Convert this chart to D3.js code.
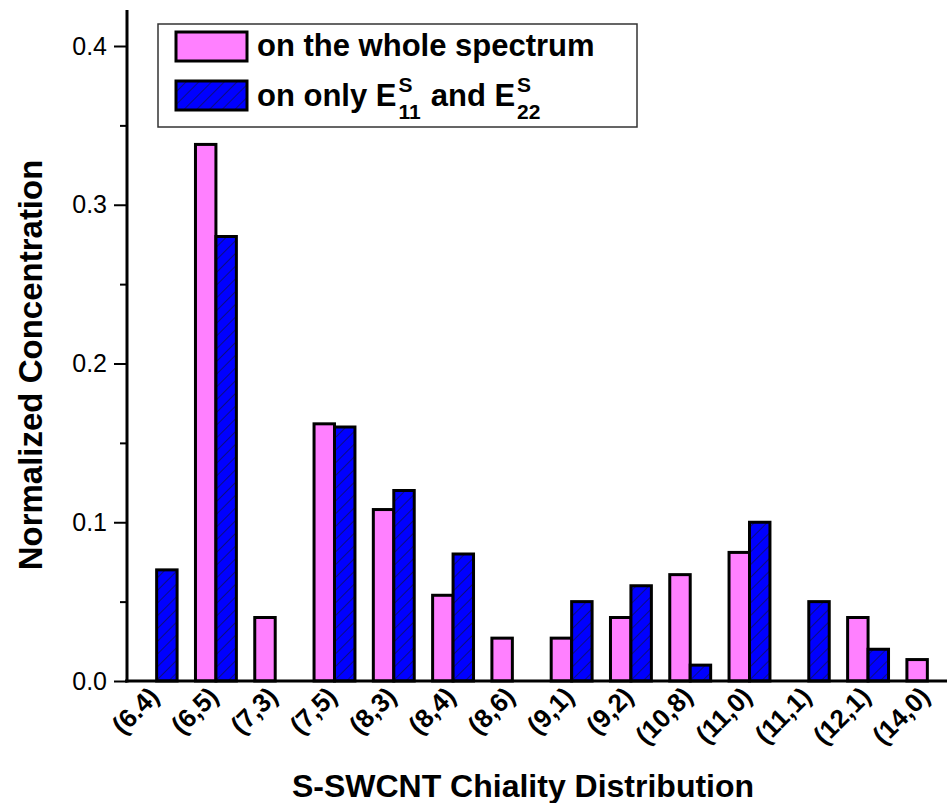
<!DOCTYPE html>
<meta charset="utf-8">
<head>
	<title>S-SWCNT chirality</title>
</head>
<style>
	body { margin: 0; background: #fff; }
	svg text { font-family: "Liberation Sans", Arial, sans-serif; white-space: pre; }
</style>
<body>
<div id="chart"></div>
<script src="https://d3js.org/d3.v7.min.js"></script>
<script>

	var chirality = ["(6.4)", "(6,5)", "(7,3)", "(7,5)", "(8,3)", "(8,4)", "(8,6)", "(9,1)", "(9,2)", "(10,8)", "(11,0)", "(11,1)", "(12,1)", "(14,0)"];
	var wholeSpectrum = [0, 0.338, 0.040, 0.162, 0.108, 0.054, 0.027, 0.027, 0.040, 0.067, 0.081, 0, 0.040, 0.0135];
	var onlyE11E22 = [0.070, 0.280, 0, 0.160, 0.120, 0.080, 0, 0.050, 0.060, 0.010, 0.100, 0.050, 0.020, 0];
	var yTicks = [0, 0.1, 0.2, 0.3, 0.4];
	var yMinor = [0.05, 0.15, 0.25, 0.35];

	var width = 947, height = 803;

	var svg = d3.select("#chart").append("svg")
		.attr("width", width)
		.attr("height", height);

	// hatch for the blue series
	var defs = svg.append("defs");
	var pat = defs.append("pattern")
		.attr("id", "hatch")
		.attr("patternUnits", "userSpaceOnUse")
		.attr("width", 9)
		.attr("height", 9)
		.attr("patternTransform", "rotate(45)");
	pat.append("rect").attr("width", 9).attr("height", 9).attr("fill", "#0000ff");
	pat.append("line")
		.attr("x1", 0).attr("y1", 0).attr("x2", 0).attr("y2", 9)
		.attr("stroke", "#10104a").attr("stroke-width", 1.4);

	var x = d3.scaleBand()
		.domain(chirality)
		.range([127, 957])
		.paddingInner(0.31)
		.paddingOuter(0.155);

	var xSeries = d3.scaleBand()
		.domain(["whole", "only"])
		.range([0, x.bandwidth()]);

	var y = d3.scaleLinear()
		.domain([0, 0.42])
		.range([681, 681 - 0.42 * 1587.5]);

	var rows = chirality.map(function(c, i) {
		return [
			{ cat: c, key: "whole", v: wholeSpectrum[i] },
			{ cat: c, key: "only", v: onlyE11E22[i] }
		];
	});

	var groups = svg.selectAll(".grp")
		.data(rows)
		.enter().append("g")
		.attr("class", "grp")
		.attr("transform", function(d) { return "translate(" + x(d[0].cat) + ",0)"; });

	groups.selectAll("rect")
		.data(function(d) { return d.filter(function(e) { return e.v > 0; }); })
		.enter().append("rect")
		.attr("x", function(d) { return xSeries(d.key); })
		.attr("width", xSeries.bandwidth())
		.attr("y", function(d) { return y(d.v); })
		.attr("height", function(d) { return y(0) - y(d.v); })
		.attr("fill", function(d) { return d.key == "whole" ? "#ff80ff" : "url(#hatch)"; })
		.attr("stroke", "#000")
		.attr("stroke-width", 3);

	// y axis
	var yAxis = svg.append("g")
		.attr("transform", "translate(127,0)")
		.call(d3.axisLeft(y).tickValues(yTicks).tickSize(13).tickPadding(7).tickFormat(d3.format(".1f")));
	yAxis.select(".domain").remove();
	yAxis.selectAll("line").attr("stroke-width", 2);
	yAxis.selectAll("text").style("font-size", "25px").attr("fill", "#000");

	var yAxisMinor = svg.append("g")
		.attr("transform", "translate(127,0)")
		.call(d3.axisLeft(y).tickValues(yMinor).tickSize(7).tickFormat(""));
	yAxisMinor.select(".domain").remove();
	yAxisMinor.selectAll("line").attr("stroke-width", 2);

	svg.append("line")
		.attr("x1", 127).attr("x2", 127)
		.attr("y1", y(0) + 1.5).attr("y2", 10)
		.attr("stroke", "#000").attr("stroke-width", 3);

	// x axis
	svg.append("line")
		.attr("x1", 125).attr("x2", width)
		.attr("y1", y(0)).attr("y2", y(0))
		.attr("stroke", "#000").attr("stroke-width", 3);

	svg.selectAll(".xlab")
		.data(chirality)
		.enter().append("text")
		.attr("class", "xlab")
		.attr("transform", function(d) {
			return "translate(" + (x(d) + x.bandwidth() / 2 + 4) + "," + 698 + ") rotate(-45)";
		})
		.attr("text-anchor", "end")
		.style("font-size", "26px")
		.style("font-weight", "bold")
		.text(function(d) { return d; });

	// axis titles
	svg.append("text")
		.attr("transform", "translate(42,365) rotate(-90)")
		.attr("text-anchor", "middle")
		.style("font-size", "33px")
		.style("font-weight", "bold")
		.text("Normalized Concentration");

	svg.append("text")
		.attr("x", 523)
		.attr("y", 797)
		.attr("text-anchor", "middle")
		.style("font-size", "32px")
		.style("font-weight", "bold")
		.text("S-SWCNT Chiality Distribution");

	// legend
	var leg = svg.append("g");
	leg.append("rect")
		.attr("x", 158).attr("y", 24).attr("width", 479).attr("height", 103)
		.attr("fill", "#fff").attr("stroke", "#333").attr("stroke-width", 1.5);
	leg.append("rect")
		.attr("x", 176).attr("y", 32).attr("width", 71).attr("height", 29)
		.attr("fill", "#ff80ff").attr("stroke", "#000").attr("stroke-width", 3);
	leg.append("rect")
		.attr("x", 176).attr("y", 81).attr("width", 71).attr("height", 29)
		.attr("fill", "url(#hatch)").attr("stroke", "#000").attr("stroke-width", 3);

	function legText(xp, yp, s, size) {
		return leg.append("text")
			.attr("x", xp).attr("y", yp)
			.style("font-size", size + "px")
			.style("font-weight", "bold")
			.text(s);
	}

	legText(257, 56, "on the whole spectrum", 31);

	var bx = 257, by = 106;
	var t1 = legText(bx, by, "on only E", 31);
	var cx = bx + t1.node().getComputedTextLength() + 2;
	legText(cx, by - 14, "S", 21);
	var sub1 = legText(cx, by + 13, "11", 21);
	cx += sub1.node().getComputedTextLength() + 10;
	var t2 = legText(cx, by, "and E", 31);
	cx += t2.node().getComputedTextLength() + 2;
	legText(cx, by - 14, "S", 21);
	legText(cx, by + 13, "22", 21);

</script>
</body>
